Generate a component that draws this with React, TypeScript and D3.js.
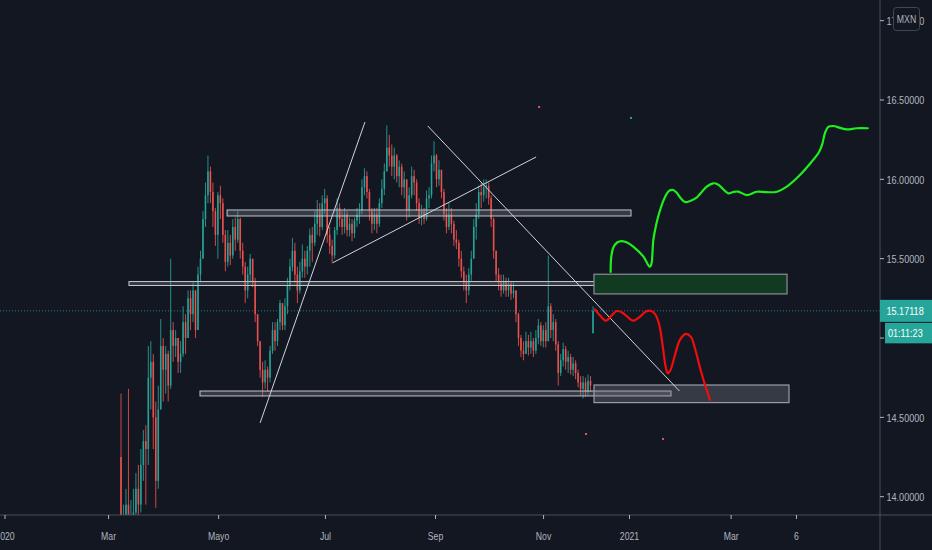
import React from "react";
import * as d3 from "d3";

// ---- Data (daily bars, 9 Mar 2020 .. 30 Nov 2020, index 0..190) ----
const closes = [
  13.55, 13.75, 13.95, 13.6, 13.8,
  13.9, 14.05, 13.95, 14.2, 14.35,
  14.3, 14.75, 14.85, 14.5, 14.1,
  14.55, 14.95, 14.8, 14.9, 14.7,
  15.05, 14.95, 15.0, 14.85, 14.9,
  15.1, 15.0, 15.25, 15.15, 15.3,
  15.05, 15.4, 15.5, 15.75, 15.9,
  16.05, 15.92, 15.8, 15.65, 15.9,
  15.85, 15.65, 15.48, 15.6, 15.52,
  15.7, 15.62, 15.75, 15.55, 15.45,
  15.3, 15.4, 15.5, 15.35, 15.15,
  14.98, 14.8, 14.72, 14.8, 14.75,
  14.92, 15.05, 14.98, 15.1, 15.22,
  15.08, 15.2, 15.33, 15.45, 15.55,
  15.4, 15.3, 15.42, 15.5, 15.45,
  15.55, 15.65, 15.6, 15.72, 15.8,
  15.7, 15.85, 15.88, 15.65, 15.58,
  15.52, 15.68, 15.82, 15.75, 15.7,
  15.78, 15.68, 15.72, 15.66, 15.74,
  15.78, 15.8, 15.95, 16.02, 15.92,
  15.8, 15.72, 15.78, 15.72, 15.85,
  15.94, 16.05, 16.2, 16.15, 16.08,
  16.15, 16.02, 16.08, 15.95, 16.0,
  15.8, 15.9, 16.02, 15.98, 15.85,
  15.76, 15.8, 15.75, 15.88, 15.9,
  16.1, 16.15, 16.0, 16.06, 15.92,
  15.78, 15.7, 15.78, 15.72, 15.62,
  15.6, 15.5, 15.42, 15.35, 15.3,
  15.4, 15.5, 15.7, 15.78, 15.92,
  15.9, 15.95, 15.96, 15.88, 15.75,
  15.55, 15.4, 15.35, 15.3, 15.36,
  15.3, 15.34, 15.28, 15.3, 15.15,
  15.0, 14.92, 14.9, 14.98, 14.94,
  14.98, 14.92, 15.0, 15.08, 14.98,
  15.05, 14.98, 15.2, 15.05, 15.1,
  14.96, 14.78, 14.86, 14.93, 14.85,
  14.88, 14.8, 14.84, 14.78, 14.72,
  14.68, 14.72, 14.66, 14.73, 14.7,
  15.17118,
];
const highs = [
  14.65, 13.95, 14.05, 14.68, 13.98,
  14.05, 14.15, 14.2, 14.3, 14.42,
  14.45, 14.95, 14.98, 14.9, 14.6,
  14.7, 15.12, 15.0, 14.95, 14.92,
  15.5, 15.1, 15.05, 15.0, 14.98,
  15.2, 15.15, 15.3, 15.3, 15.35,
  15.3, 15.45, 15.55, 15.8, 15.98,
  16.15, 16.08, 15.98, 15.82, 15.92,
  15.96, 15.88, 15.68, 15.68, 15.65,
  15.75, 15.76, 15.8, 15.76, 15.6,
  15.48, 15.45, 15.53, 15.5, 15.38,
  15.15, 14.98, 14.85, 14.86, 14.82,
  14.95, 15.1, 15.1, 15.12, 15.24,
  15.22, 15.25, 15.38, 15.5, 15.63,
  15.6, 15.45, 15.48, 15.59, 15.55,
  15.58, 15.69, 15.7, 15.8, 15.87,
  15.85, 15.9, 15.94, 15.9, 15.7,
  15.62, 15.7, 15.88, 15.85, 15.8,
  15.82, 15.8, 15.76, 15.75, 15.76,
  15.82, 15.85, 16.0, 16.07, 16.05,
  15.94, 15.82, 15.82, 15.82, 15.88,
  16.0, 16.1, 16.34, 16.28, 16.22,
  16.2, 16.16, 16.12, 16.1, 16.05,
  15.98, 15.95, 16.08, 16.06, 16.0,
  15.88, 15.84, 15.82, 15.93, 15.95,
  16.15, 16.24, 16.16, 16.12, 16.06,
  15.94, 15.82, 15.85, 15.82, 15.74,
  15.68, 15.62, 15.55, 15.45, 15.4,
  15.44, 15.55, 15.75, 15.85, 15.96,
  15.98, 16.0, 16.0, 15.98, 15.9,
  15.76, 15.55, 15.44, 15.4, 15.4,
  15.38, 15.38, 15.36, 15.35, 15.3,
  15.16, 15.02, 14.98, 15.04, 15.02,
  15.04, 15.0, 15.05, 15.12, 15.1,
  15.08, 15.1, 15.52, 15.22, 15.15,
  15.12, 14.98, 14.9, 14.97, 14.95,
  14.92, 14.9, 14.88, 14.86, 14.8,
  14.76, 14.76, 14.75, 14.77, 14.76,
  15.2,
];
const lows = [
  13.3, 13.4, 13.6, 13.4, 13.5,
  13.6, 13.8, 13.85, 13.9, 14.1,
  13.95, 14.2, 14.55, 14.3, 13.93,
  14.05, 14.55, 14.6, 14.65, 14.6,
  14.68, 14.85, 14.88, 14.78, 14.78,
  14.88, 14.9, 15.0, 15.05, 15.1,
  15.0, 15.05, 15.35, 15.5, 15.7,
  15.85, 15.85, 15.7, 15.58, 15.5,
  15.75, 15.6, 15.42, 15.45, 15.46,
  15.5, 15.55, 15.6, 15.5, 15.4,
  15.22, 15.25, 15.35, 15.32, 15.1,
  14.95, 14.75, 14.63, 14.68, 14.66,
  14.72, 14.9, 14.92, 14.95, 15.05,
  15.05, 15.05, 15.15, 15.3, 15.42,
  15.35, 15.22, 15.28, 15.38, 15.38,
  15.4, 15.45, 15.48, 15.58, 15.65,
  15.64, 15.68, 15.78, 15.6, 15.53,
  15.47, 15.5, 15.65, 15.7, 15.65,
  15.66, 15.64, 15.64, 15.61, 15.63,
  15.7, 15.72, 15.78, 15.9, 15.88,
  15.74, 15.66, 15.68, 15.66, 15.7,
  15.82, 15.9, 16.05, 16.08, 16.02,
  16.0, 15.98, 15.95, 15.9, 15.88,
  15.74, 15.76, 15.88, 15.9, 15.8,
  15.72, 15.71, 15.72, 15.74, 15.82,
  15.88, 16.05, 15.95, 15.96, 15.88,
  15.74, 15.66, 15.68, 15.66, 15.58,
  15.56, 15.45, 15.38, 15.3, 15.22,
  15.27, 15.36, 15.5, 15.62, 15.75,
  15.82, 15.86, 15.88, 15.84, 15.7,
  15.5, 15.36, 15.3, 15.26, 15.28,
  15.26, 15.26, 15.24, 15.25, 15.1,
  14.95, 14.88, 14.86, 14.9, 14.89,
  14.9, 14.88, 14.9, 14.96, 14.95,
  14.94, 14.94, 14.98, 15.0, 14.98,
  14.92, 14.7, 14.76, 14.82, 14.8,
  14.78, 14.77, 14.76, 14.74, 14.69,
  14.64, 14.62, 14.63, 14.64, 14.66,
  15.03,
];
const firstOpen = 14.25;
const gapOpens: Record<number, number> = { 190: 15.03 };

const priceTicks = [14.0, 14.5, 15.0, 15.5, 16.0, 16.5, 17.0];
const timeTickLabels = ["2020", "Mar", "Mayo", "Jul", "Sep", "Nov", "2021", "Mar", "6"];
const timeTickIdx = [-46.7, -5.0, 39.3, 82.3, 126.6, 170.1, 204.7, 245.6, 271.9];

// Drawings, in (bar index, price)
const thinBands = [
  [42.7, 205.3, 15.807, 15.769],
  [3.2, 227.5, 15.356, 15.331],
  [31.8, 221.4, 14.666, 14.635],
];
const greenZone = [190.4, 268.1, 15.402, 15.278];
const grayZone = [190.4, 268.9, 14.704, 14.593];
const trendLines = [
  [56.0, 14.465, 98.2, 16.361],
  [85.3, 15.475, 167.1, 16.141],
  [123.5, 16.336, 224.8, 14.666],
];
const greenPath: [number, number][] = [
  [197.1, 15.416], [197.3, 15.504], [198.1, 15.567], [199.7, 15.602], [201.6, 15.611],
  [203.7, 15.602], [206.2, 15.576], [210.3, 15.513], [212.8, 15.45], [213.4, 15.46],
  [214.3, 15.618], [215.4, 15.712], [217.0, 15.807], [219.0, 15.889], [220.6, 15.927],
  [222.3, 15.933], [223.8, 15.914], [225.4, 15.879], [227.0, 15.857], [229.1, 15.864],
  [231.8, 15.887], [235.8, 15.954], [238.3, 15.975], [240.3, 15.968], [242.3, 15.939],
  [244.5, 15.912], [246.4, 15.92], [248.4, 15.923], [251.9, 15.901], [255.9, 15.922],
  [259.9, 15.919], [264.0, 15.922], [268.0, 15.954], [273.3, 16.027], [278.1, 16.112],
  [281.0, 16.172], [282.2, 16.217], [283.4, 16.292], [284.7, 16.33], [286.8, 16.336],
  [289.5, 16.324], [292.2, 16.315], [296.2, 16.322], [300.6, 16.322],
];
const redPath: [number, number][] = [
  [190.8, 15.181], [193.0, 15.139], [195.3, 15.109], [197.3, 15.139], [199.6, 15.17],
  [201.7, 15.161], [204.1, 15.13], [206.2, 15.109], [208.9, 15.134], [211.3, 15.167],
  [213.2, 15.172], [215.0, 15.151], [216.6, 15.088], [218.0, 14.956], [219.2, 14.824],
  [220.1, 14.778], [221.2, 14.799], [223.0, 14.893], [225.0, 14.988], [227.4, 15.026],
  [229.4, 15.007], [231.0, 14.937], [233.1, 14.811], [235.1, 14.704], [237.1, 14.61],
];
const strayDots: [number, number, string][] = [
  [168.3, 16.456, "#ef5350"],
  [205.3, 16.387, "#26a69a"],
  [187.2, 14.395, "#ef5350"],
  [218.2, 14.364, "#ef5350"],
];
const countdown = "01:11:23";
const currency = "MXN";

const W = 932;
const H = 550;
const AXIS_X = 880;
const AXIS_Y = 515;
const BG = "#131722";
const UP = "#26a69a";
const DOWN = "#ef5350";
const TXT = "#b2b5be";
const FONT = "'Liberation Sans', Arial, sans-serif";
const SX = 0.79;

function SText(props: { x: number; y: number; anchor?: string; fill?: string; size?: number; children: React.ReactNode }) {
  const { x, y, anchor = "start", fill = TXT, size = 11.5, children } = props;
  return (
    <text
      transform={`translate(${x},${y}) scale(${SX},1)`}
      textAnchor={anchor}
      fill={fill}
      fontSize={size}
      fontFamily={FONT}
    >
      {children}
    </text>
  );
}

export default function App() {
  const x = d3.scaleLinear().domain([0, 190]).range([121, 593]);
  const y = d3.scaleLinear().domain([14.0, 16.5]).range([496.7, 100]);
  const fmt = d3.format(".5f");
  const bw = 1.6;

  const bars = closes.map((c, i) => {
    const o = i === 0 ? firstOpen : gapOpens[i] ?? closes[i - 1];
    const h = Math.max(highs[i], o, c);
    const l = Math.min(lows[i], o, c);
    return { i, o, h, l, c, up: c >= o };
  });

  const curve = d3
    .line<[number, number]>()
    .x((d) => x(d[0]))
    .y((d) => y(d[1]))
    .curve(d3.curveCatmullRom.alpha(0.5));

  const last = closes[closes.length - 1];
  const yLast = y(last);

  return (
    <svg
      width={W}
      height={H}
      style={{ position: "fixed", left: 0, top: 0, display: "block" }}
    >
      <defs>
        <clipPath id="plot">
          <rect x={0} y={0} width={AXIS_X} height={AXIS_Y} />
        </clipPath>
      </defs>
      <rect x={0} y={0} width={W} height={H} fill={BG} />

      <g clipPath="url(#plot)">
        {/* price line */}
        <line x1={0} x2={AXIS_X} y1={yLast} y2={yLast} stroke={UP} strokeWidth={1} strokeDasharray="1 2" opacity={0.75} />

        {/* candles */}
        {bars.map((b) => {
          const col = b.up ? UP : DOWN;
          const cx = x(b.i);
          const top = y(Math.max(b.o, b.c));
          const bot = y(Math.min(b.o, b.c));
          return (
            <g key={b.i}>
              <line x1={cx} x2={cx} y1={y(b.h)} y2={y(b.l)} stroke={col} strokeWidth={1} opacity={0.85} />
              <rect x={cx - bw / 2} y={top} width={bw} height={Math.max(1, bot - top)} fill={col} opacity={0.9} />
            </g>
          );
        })}

        {/* thin horizontal bands */}
        {thinBands.map((b, k) => (
          <rect
            key={"band" + k}
            x={x(b[0])}
            y={y(b[2])}
            width={x(b[1]) - x(b[0])}
            height={y(b[3]) - y(b[2])}
            fill="rgba(120,123,134,0.35)"
            stroke="#c3c5cc"
            strokeWidth={1}
          />
        ))}

        {/* zones */}
        <rect
          x={x(greenZone[0])}
          y={y(greenZone[2])}
          width={x(greenZone[1]) - x(greenZone[0])}
          height={y(greenZone[3]) - y(greenZone[2])}
          fill="#123a20"
          stroke="#8c8f98"
          strokeWidth={1.2}
        />
        <rect
          x={x(grayZone[0])}
          y={y(grayZone[2])}
          width={x(grayZone[1]) - x(grayZone[0])}
          height={y(grayZone[3]) - y(grayZone[2])}
          fill="rgba(120,123,134,0.35)"
          stroke="#9a9ca4"
          strokeWidth={1.2}
        />

        {/* trend lines */}
        {trendLines.map((t, k) => (
          <line
            key={"tl" + k}
            x1={x(t[0])}
            y1={y(t[1])}
            x2={x(t[2])}
            y2={y(t[3])}
            stroke="#d1d4dc"
            strokeWidth={1}
          />
        ))}

        {/* projections */}
        <path d={curve(greenPath) || ""} fill="none" stroke="#1ef01e" strokeWidth={2.2} strokeLinejoin="round" strokeLinecap="round" />
        <path d={curve(redPath) || ""} fill="none" stroke="#f20d0d" strokeWidth={2.2} strokeLinejoin="round" strokeLinecap="round" />

        {strayDots.map((d, k) => (
          <rect key={"dot" + k} x={x(d[0]) - 1} y={y(d[1]) - 1} width={2} height={2} fill={d[2]} />
        ))}
      </g>

      {/* axes */}
      <line x1={0} x2={W} y1={AXIS_Y} y2={AXIS_Y} stroke="#4a4e59" strokeWidth={1} />
      <line x1={AXIS_X} x2={AXIS_X} y1={0} y2={H} stroke="#4a4e59" strokeWidth={1} />

      {priceTicks.map((p) => (
        <g key={"pt" + p}>
          <line x1={AXIS_X} x2={AXIS_X + 4} y1={y(p)} y2={y(p)} stroke={TXT} strokeWidth={1} />
          <SText x={AXIS_X + 6.5} y={y(p) + 4.2}>{fmt(p)}</SText>
        </g>
      ))}

      {timeTickLabels.map((lab, k) => (
        <g key={"tt" + k}>
          <line x1={x(timeTickIdx[k])} x2={x(timeTickIdx[k])} y1={AXIS_Y} y2={AXIS_Y + 4} stroke={TXT} strokeWidth={1} />
          <SText x={x(timeTickIdx[k])} y={539.5} anchor="middle" size={11}>{lab}</SText>
        </g>
      ))}

      {/* last price label */}
      <rect x={AXIS_X} y={yLast - 11} width={W - AXIS_X} height={22} fill={UP} />
      <SText x={AXIS_X + 6.5} y={yLast + 4.2} fill="#ffffff">{fmt(last)}</SText>
      <rect x={AXIS_X + 5} y={yLast + 12} width={W - AXIS_X - 5} height={20.5} fill={UP} />
      <SText x={AXIS_X + 8} y={yLast + 26.5} fill="#ffffff">{countdown}</SText>

      {/* currency badge */}
      <rect x={893.5} y={7.5} width={26} height={23} rx={3} fill={BG} stroke="#434651" strokeWidth={1} />
      <SText x={906.5} y={23} anchor="middle" size={11}>{currency}</SText>
    </svg>
  );
}
